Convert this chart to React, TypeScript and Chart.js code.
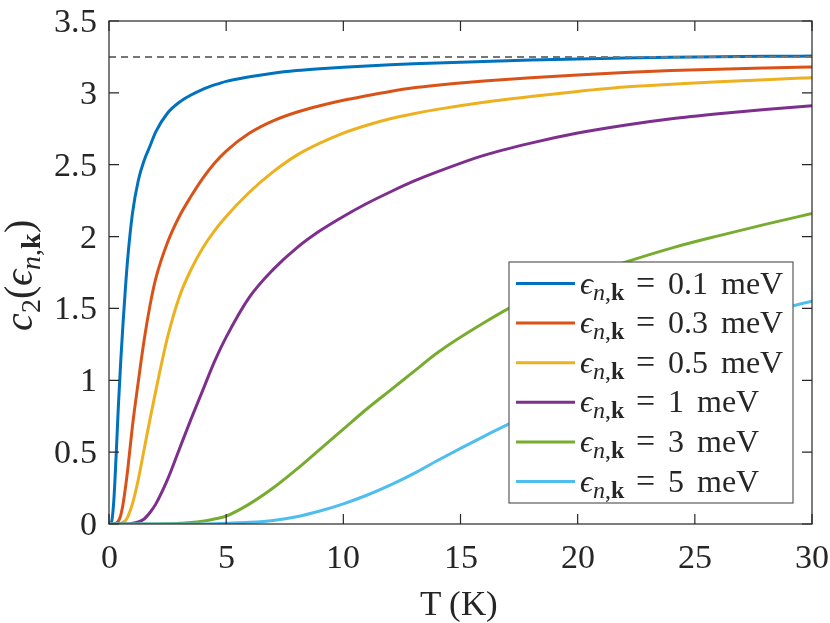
import { useEffect, useRef } from "react";
import { Chart, registerables } from "chart.js";

Chart.register(...registerables);

// temperature grid (K)
const temps = [0, 0.1, 0.2, 0.3, 0.4, 0.5, 0.6, 0.7, 0.8, 1, 1.25, 1.5, 1.75, 2, 2.5, 3, 3.5, 4, 4.5, 5, 6, 7, 8, 9, 10, 11, 12, 13, 14, 16, 18, 20, 22, 24, 26, 28, 30];

// c2, one list per energy
const c2Eps01 = [0, 0.01, 0.15, 0.46, 0.82, 1.13, 1.4, 1.64, 1.85, 2.16, 2.39, 2.53, 2.63, 2.73, 2.86, 2.935, 2.985, 3.025, 3.055, 3.08, 3.112, 3.137, 3.155, 3.168, 3.178, 3.187, 3.195, 3.202, 3.208, 3.219, 3.228, 3.236, 3.242, 3.247, 3.251, 3.254, 3.256];
const c2Eps03 = [0, 0, 0, 0.005, 0.02, 0.06, 0.14, 0.25, 0.38, 0.68, 0.99, 1.28, 1.52, 1.71, 1.96, 2.14, 2.28, 2.405, 2.51, 2.595, 2.72, 2.805, 2.865, 2.91, 2.948, 2.98, 3.01, 3.035, 3.053, 3.082, 3.105, 3.125, 3.142, 3.155, 3.165, 3.173, 3.18];
const c2Eps05 = [0, 0, 0, 0, 0.001, 0.005, 0.012, 0.025, 0.05, 0.14, 0.31, 0.52, 0.73, 0.93, 1.3, 1.58, 1.77, 1.92, 2.04, 2.14, 2.31, 2.45, 2.565, 2.65, 2.72, 2.775, 2.82, 2.855, 2.885, 2.935, 2.975, 3.01, 3.04, 3.06, 3.077, 3.092, 3.105];
const c2Eps1 = [0, 0, 0, 0, 0, 0, 0, 0, 0, 0.005, 0.015, 0.035, 0.08, 0.14, 0.31, 0.52, 0.73, 0.93, 1.13, 1.3, 1.58, 1.77, 1.92, 2.04, 2.14, 2.23, 2.31, 2.385, 2.45, 2.565, 2.65, 2.72, 2.775, 2.82, 2.855, 2.885, 2.91];
const c2Eps3 = [0, 0, 0, 0, 0, 0, 0, 0, 0, 0, 0, 0, 0, 0, 0.001, 0.005, 0.01, 0.02, 0.035, 0.055, 0.14, 0.25, 0.38, 0.52, 0.66, 0.8, 0.93, 1.06, 1.19, 1.4, 1.58, 1.71, 1.82, 1.92, 2.005, 2.085, 2.16];
const c2Eps5 = [0, 0, 0, 0, 0, 0, 0, 0, 0, 0, 0, 0, 0, 0, 0, 0, 0, 0, 0.002, 0.005, 0.012, 0.025, 0.05, 0.09, 0.14, 0.2, 0.27, 0.35, 0.44, 0.61, 0.77, 0.93, 1.09, 1.23, 1.36, 1.47, 1.55];

const energies = ["0.1", "0.3", "0.5", "1", "3", "5"];
const seriesValues = [c2Eps01, c2Eps03, c2Eps05, c2Eps1, c2Eps3, c2Eps5];
const lineColors = ["#0072BD", "#D95319", "#EDB120", "#7E2F8E", "#77AC30", "#4DBEEE"];

// high temperature limit (dashed line)
const plateau = 3.25;

const xMax = 30;
const xStep = 5;
const yMax = 3.5;
const yStep = 0.5;

const SERIF = '"LSerif", "Liberation Serif", "Times New Roman", "DejaVu Serif", serif';
const AXIS = "#262626";
const TICK = 10;

// pin the installed serif faces by their local names
function loadSerifFaces() {
  if (typeof FontFace === "undefined" || !document.fonts) return;
  const faces = [
    new FontFace("LSerif", 'local("Liberation Serif"), local("LiberationSerif"), local("Liberation Serif Regular"), local("LiberationSerif-Regular")', { style: "normal", weight: "400" }),
    new FontFace("LSerif", 'local("Liberation Serif Italic"), local("LiberationSerif-Italic")', { style: "italic", weight: "400" }),
    new FontFace("LSerif", 'local("Liberation Serif Bold"), local("LiberationSerif-Bold")', { style: "normal", weight: "700" }),
  ];
  faces.forEach((f) => {
    document.fonts.add(f);
    f.load().catch(() => {});
  });
}

// text goes in an html layer on top of the canvas
const sub = (html: string, size: number, dy: number) =>
  `<span style="font-size:${size}px;position:relative;top:${dy}px">${html}</span>`;
const epsHtml = (subSize: number, dy: number) =>
  `<i>\u03F5</i>${sub("<i>n</i>,<b>k</b>", subSize, dy)}`;

const abs = (style: string, html: string) =>
  `<div style="position:absolute;white-space:nowrap;line-height:1;${style}">${html}</div>`;

function makeFramePlugin(overlay: HTMLDivElement) {
  return {
    id: "frame",
    afterDraw(chart: any) {
      const { ctx, chartArea: a, scales } = chart;
      const xs = scales.x;
      const ys = scales.y;
      ctx.save();

      // box and inward ticks on all four sides
      ctx.strokeStyle = AXIS;
      ctx.lineWidth = 1.2;
      ctx.strokeRect(a.left, a.top, a.right - a.left, a.bottom - a.top);
      ctx.beginPath();
      xs.ticks.forEach((t: any) => {
        const px = xs.getPixelForValue(t.value);
        ctx.moveTo(px, a.bottom);
        ctx.lineTo(px, a.bottom - TICK);
        ctx.moveTo(px, a.top);
        ctx.lineTo(px, a.top + TICK);
      });
      ys.ticks.forEach((t: any) => {
        const py = ys.getPixelForValue(t.value);
        ctx.moveTo(a.left, py);
        ctx.lineTo(a.left + TICK, py);
        ctx.moveTo(a.right, py);
        ctx.lineTo(a.right - TICK, py);
      });
      ctx.stroke();

      // legend box and swatches
      const lw = 284;
      const lh = 241;
      const lx = a.right - 19 - lw;
      const ly = a.bottom - 21 - lh;
      ctx.fillStyle = "#ffffff";
      ctx.fillRect(lx, ly, lw, lh);
      ctx.strokeStyle = "#5a5a5a";
      ctx.lineWidth = 1.2;
      ctx.strokeRect(lx, ly, lw, lh);

      const items = chart.data.datasets.filter((d: any) => d.label);
      const rowH = (lh - 43) / (items.length - 1);
      let html = "";
      items.forEach((d: any, i: number) => {
        const cy = ly + 21.5 + i * rowH;
        ctx.strokeStyle = d.borderColor;
        ctx.lineWidth = 3;
        ctx.beginPath();
        ctx.moveTo(lx + 7, cy);
        ctx.lineTo(lx + 66, cy);
        ctx.stroke();
        html += abs(
          `left:${lx + 71}px;top:${cy - 18}px;font-size:32px`,
          `${epsHtml(24, 6)}<span style="margin-left:12px;font-size:34px">=</span><span style="margin-left:13px">${d.label}</span><span style="margin-left:13px">meV</span>`
        );
      });
      ctx.restore();

      // tick labels
      xs.ticks.forEach((t: any) => {
        const px = xs.getPixelForValue(t.value);
        html += abs(`left:${px}px;top:${a.bottom + 16}px;font-size:34px;transform:translateX(-50%)`, String(t.value));
      });
      ys.ticks.forEach((t: any) => {
        const py = ys.getPixelForValue(t.value);
        html += abs(`right:${chart.width - a.left + 12}px;top:${py}px;font-size:34px;transform:translateY(-50%)`, String(t.value));
      });

      // axis titles
      html += abs(`left:${(a.left + a.right) / 2 - 2}px;top:586px;font-size:35px;transform:translateX(-50%)`, "T (K)");
      html += abs(
        `left:18.5px;top:${(a.top + a.bottom) / 2 + 2}px;font-size:40px;transform:translate(-50%,-50%) rotate(-90deg)`,
        `<i>c</i>${sub("2", 28, 8)}(${epsHtml(28, 8)})`
      );

      overlay.innerHTML = html;
    },
  };
}

export default function App() {
  const chartRef = useRef<HTMLCanvasElement>(null);
  const overlayRef = useRef<HTMLDivElement>(null);
  const chartInstance = useRef<Chart | null>(null);

  useEffect(() => {
    if (!chartRef.current || !overlayRef.current) return;
    if (chartInstance.current) chartInstance.current.destroy();
    const ctx = chartRef.current.getContext("2d");
    if (!ctx) return;

    loadSerifFaces();

    const curves = seriesValues.map((vals, i) => ({
      label: energies[i],
      data: temps.map((t, j) => ({ x: t, y: vals[j] })),
      borderColor: lineColors[i],
      borderWidth: 3,
      pointRadius: 0,
      fill: false,
      cubicInterpolationMode: "monotone" as const,
      order: -i,
    }));

    chartInstance.current = new Chart(ctx, {
      type: "line",
      data: {
        datasets: [
          ...curves,
          {
            label: "",
            data: [
              { x: 0, y: plateau },
              { x: xMax, y: plateau },
            ],
            borderColor: "#767676",
            borderWidth: 2,
            borderDash: [7, 5],
            pointRadius: 0,
            order: -10,
          },
        ],
      },
      options: {
        responsive: true,
        maintainAspectRatio: false,
        animation: false,
        layout: { padding: { top: 21, right: 18, left: 0, bottom: 0 } },
        plugins: {
          legend: { display: false },
          tooltip: { enabled: false },
        },
        scales: {
          x: {
            type: "linear",
            min: 0,
            max: xMax,
            ticks: { stepSize: xStep, display: false },
            grid: { display: false, drawTicks: false },
            border: { display: false },
            afterFit: (s: any) => {
              s.height = 99;
              s.paddingLeft = 0;
              s.paddingRight = 0;
            },
          },
          y: {
            type: "linear",
            min: 0,
            max: yMax,
            ticks: { stepSize: yStep, display: false },
            grid: { display: false, drawTicks: false },
            border: { display: false },
            afterFit: (s: any) => {
              s.width = 109;
              s.paddingTop = 0;
              s.paddingBottom = 0;
            },
          },
        },
      },
      plugins: [makeFramePlugin(overlayRef.current)],
    });

    return () => {
      if (chartInstance.current) {
        chartInstance.current.destroy();
        chartInstance.current = null;
      }
    };
  }, []);

  return (
    <div style={{ position: "absolute", left: 0, top: 0, width: 830, height: 623, background: "#ffffff" }}>
      <canvas ref={chartRef}></canvas>
      <div
        ref={overlayRef}
        style={{ position: "absolute", left: 0, top: 0, width: 830, height: 623, pointerEvents: "none", fontFamily: SERIF, color: AXIS }}
      ></div>
    </div>
  );
}
